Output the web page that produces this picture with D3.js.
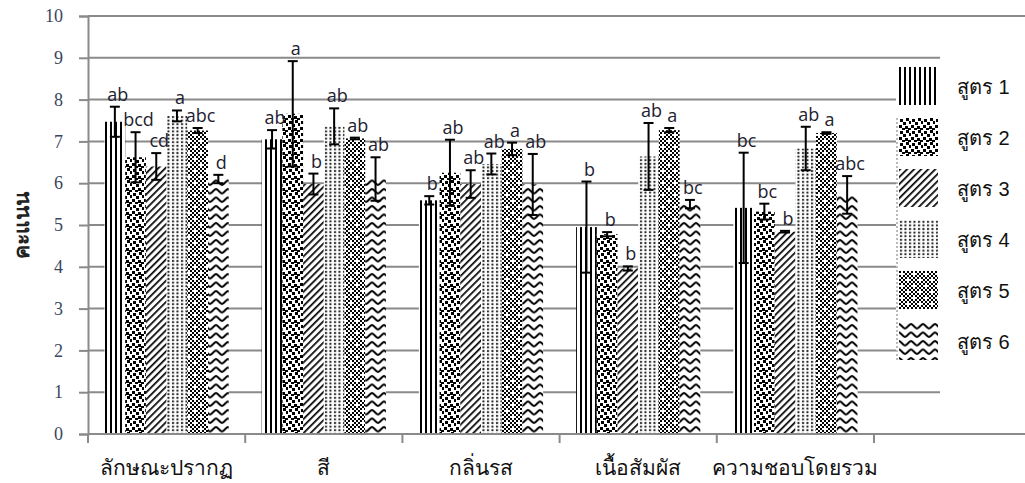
<!DOCTYPE html>
<html>
<head>
<meta charset="utf-8">
<script src="https://cdn.jsdelivr.net/npm/d3@7"></script>
<style>
  body { margin: 0; background: #fff; }
  svg { display: block; }
</style>
</head>
<body>
<svg id="chart"></svg>
<script>
// categories and series
const categories = ["ลักษณะปรากฏ", "สี", "กลิ่นรส", "เนื้อสัมผัส", "ความชอบโดยรวม"]
const series = ["สูตร 1", "สูตร 2", "สูตร 3", "สูตร 4", "สูตร 5", "สูตร 6"]

// means per series, one value per category
const f1 = [7.47, 7.05, 5.59, 4.95, 5.41]
const f2 = [6.62, 7.66, 6.25, 4.78, 5.32]
const f3 = [6.40, 5.98, 5.98, 3.96, 4.84]
const f4 = [7.61, 7.36, 6.46, 6.64, 6.83]
const f5 = [7.26, 7.07, 6.82, 7.27, 7.20]
const f6 = [6.10, 6.10, 5.97, 5.50, 5.72]

// standard deviations (error bars)
const e1 = [0.36, 0.22, 0.10, 1.09, 1.32]
const e2 = [0.60, 1.26, 0.79, 0.05, 0.19]
const e3 = [0.32, 0.25, 0.33, 0.05, 0.02]
const e4 = [0.13, 0.43, 0.25, 0.80, 0.52]
const e5 = [0.06, 0.02, 0.15, 0.05, 0.02]
const e6 = [0.10, 0.52, 0.73, 0.10, 0.45]

// significance letters
const l1 = ["ab", "ab", "b", "b", "bc"]
const l2 = ["bcd", "a", "ab", "b", "bc"]
const l3 = ["cd", "b", "ab", "b", "b"]
const l4 = ["a", "ab", "ab", "ab", "ab"]
const l5 = ["abc", "ab", "a", "a", "a"]
const l6 = ["d", "ab", "ab", "bc", "abc"]

const yTicks = [0, 1, 2, 3, 4, 5, 6, 7, 8, 9, 10]
const yTitle = "คะแนน"

const means = [f1, f2, f3, f4, f5, f6]
const errs = [e1, e2, e3, e4, e5, e6]
const letters = [l1, l2, l3, l4, l5, l6]

let rows = []
series.forEach((s, si) => {
  categories.forEach((c, ci) => {
    rows.push({cat: c, ser: s, si: si, v: means[si][ci], e: errs[si][ci], lab: letters[si][ci]})
  })
})

let
  width = 1025,
  height = 483

let svg = d3.select("#chart")
  .attr("width", width)
  .attr("height", height)
  .style("font-family", "'Liberation Sans', sans-serif")

// ---- fill patterns ----
let defs = svg.append("defs")

function pattern(id, w, h, draw, transform) {
  let p = defs.append("pattern")
    .attr("id", id)
    .attr("patternUnits", "userSpaceOnUse")
    .attr("width", w)
    .attr("height", h)
  if (transform) p.attr("patternTransform", transform)
  p.append("rect").attr("width", w).attr("height", h).attr("fill", "#fff")
  draw(p)
}

pattern("p1", 5, 5, p => {
  p.append("rect").attr("x", 0).attr("width", 2).attr("height", 5).attr("fill", "#000")
})

pattern("p2", 12, 12, p => {
  let pts = [[1, 1], [7, 0], [4, 4], [10, 3], [0, 7], [6, 8], [9, 10], [3, 10]]
  pts.forEach(d => p.append("rect").attr("x", d[0]).attr("y", d[1])
    .attr("width", 3).attr("height", 3).attr("fill", "#000"))
})

pattern("p3", 5, 5, p => {
  p.append("rect").attr("width", 1.7).attr("height", 5).attr("fill", "#000")
}, "rotate(45)")

pattern("p4", 4.5, 3.6, p => {
  p.append("rect").attr("x", 1).attr("y", 0.8).attr("width", 2).attr("height", 2).attr("fill", "#222")
})

pattern("p5", 12, 12, p => {
  for (let i = 0; i < 6; i++) {
    for (let j = 0; j < 6; j++) {
      if ((i + j) % 2 === 0) {
        p.append("rect").attr("x", i * 2).attr("y", j * 2)
          .attr("width", 2).attr("height", 2).attr("fill", "#000")
      }
    }
  }
  p.append("rect").attr("x", 2).attr("y", 2).attr("width", 2).attr("height", 2).attr("fill", "#fff")
  p.append("rect").attr("x", 8).attr("y", 8).attr("width", 2).attr("height", 2).attr("fill", "#fff")
})

pattern("p6", 12, 8.5, p => {
  p.append("path")
    .attr("d", "M0,2 C2,2 4,6.5 6,6.5 C8,6.5 10,2 12,2")
    .attr("fill", "none").attr("stroke", "#000").attr("stroke-width", 2)
})

let fills = ["url(#p1)", "url(#p2)", "url(#p3)", "url(#p4)", "url(#p5)", "url(#p6)"]

// ---- scales ----
let x = d3.scaleBand()
  .domain(categories)
  .range([88, 874])
  .paddingInner(0.21)
  .paddingOuter(0.105)

let xs = d3.scaleBand()
  .domain(series)
  .range([0, x.bandwidth()])

let y = d3.scaleLinear()
  .domain([0, 10])
  .range([434, 16])

// ---- gridlines ----
svg.append("g").selectAll("line")
  .data(yTicks.filter(d => d > 0))
  .enter().append("line")
  .attr("x1", 88)
  .attr("x2", d => d === 10 ? 1025 : 940)
  .attr("y1", d => y(d))
  .attr("y2", d => y(d))
  .attr("stroke", "#8a8a8a")
  .attr("stroke-width", 2)

// ---- y axis ----
let yAxis = svg.append("g")
  .attr("transform", "translate(88,0)")
  .call(d3.axisLeft(y).tickValues(yTicks).tickSize(9).tickPadding(16))
yAxis.select(".domain").attr("stroke", "#8a8a8a").attr("stroke-width", 2)
yAxis.selectAll(".tick line").attr("stroke", "#8a8a8a").attr("stroke-width", 2)
yAxis.selectAll(".tick text")
  .attr("font-family", "'Liberation Serif', serif")
  .attr("font-size", 18)
  .attr("fill", "#3b4660")

svg.append("text")
  .attr("transform", "translate(29,225) rotate(-90)")
  .attr("text-anchor", "middle")
  .attr("font-size", 21)
  .attr("font-weight", "bold")
  .attr("fill", "#222")
  .text(yTitle)

// ---- bars ----
let bars = svg.append("g")
bars.selectAll("rect")
  .data(rows)
  .enter().append("rect")
  .attr("x", d => x(d.cat) + xs(d.ser))
  .attr("y", d => y(d.v))
  .attr("width", xs.bandwidth())
  .attr("height", d => y(0) - y(d.v))
  .attr("fill", d => fills[d.si])

// ---- error bars ----
let eb = svg.append("g").attr("stroke", "#000").attr("stroke-width", 2)
rows.forEach(d => {
  let cx = x(d.cat) + xs(d.ser) + xs.bandwidth() / 2
  eb.append("line").attr("x1", cx).attr("x2", cx).attr("y1", y(d.v + d.e)).attr("y2", y(d.v - d.e))
  eb.append("line").attr("x1", cx - 5).attr("x2", cx + 5).attr("y1", y(d.v + d.e)).attr("y2", y(d.v + d.e))
  eb.append("line").attr("x1", cx - 5).attr("x2", cx + 5).attr("y1", y(d.v - d.e)).attr("y2", y(d.v - d.e))
})

// ---- letters ----
svg.append("g").selectAll("text")
  .data(rows)
  .enter().append("text")
  .attr("x", d => x(d.cat) + xs(d.ser) + xs.bandwidth() / 2 + 3)
  .attr("y", d => y(d.v + d.e) - 6)
  .attr("text-anchor", "middle")
  .attr("font-family", "'Open Sans', sans-serif")
  .attr("font-size", 18)
  .attr("fill", "#1e2230")
  .text(d => d.lab)

// ---- x axis ----
let xAxis = svg.append("g")
  .attr("transform", "translate(0,434)")
xAxis.append("line")
  .attr("x1", 88).attr("x2", 1025)
  .attr("stroke", "#8a8a8a").attr("stroke-width", 2)
let bounds = categories.map(c => x(c) - x.step() * x.paddingInner() / 2)
bounds.push(x(categories[categories.length - 1]) + x.bandwidth() + x.step() * x.paddingInner() / 2)
xAxis.selectAll(".tk")
  .data(bounds)
  .enter().append("line")
  .attr("x1", d => d).attr("x2", d => d)
  .attr("y1", 0).attr("y2", 9)
  .attr("stroke", "#8a8a8a").attr("stroke-width", 2)
xAxis.selectAll("text")
  .data(categories)
  .enter().append("text")
  .attr("x", d => x(d) + x.bandwidth() / 2)
  .attr("y", 41)
  .attr("text-anchor", "middle")
  .attr("font-size", 21)
  .attr("fill", "#111")
  .text(d => d)

// ---- legend ----
let legend = svg.append("g")
legend.append("rect")
  .attr("x", 896).attr("y", 62)
  .attr("width", 129).attr("height", 326)
  .attr("fill", "#fff")
legend.append("line")
  .attr("x1", 897).attr("x2", 897).attr("y1", 118).attr("y2", 360)
  .attr("stroke", "#777").attr("stroke-dasharray", "2,2")

let items = legend.selectAll(".item")
  .data(series)
  .enter().append("g")
  .attr("transform", (d, i) => `translate(899,${67 + i * 51})`)
items.append("rect")
  .attr("width", 39).attr("height", 38)
  .attr("fill", (d, i) => fills[i])
items.append("text")
  .attr("x", 58).attr("y", 27)
  .attr("font-size", 20)
  .attr("fill", "#111")
  .text(d => d)
</script>
</body>
</html>
